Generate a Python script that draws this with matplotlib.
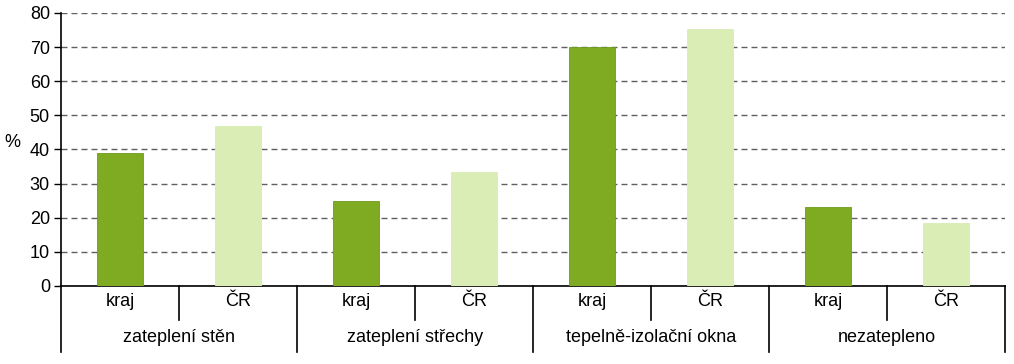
import numpy as np
import matplotlib.pyplot as plt

plt.rcParams['font.family'] = ['Liberation Sans', 'DejaVu Sans']

# --- data ---
groups = ["zateplení stěn", "zateplení střechy", "tepelně-izolační okna", "nezatepleno"]
series = ["kraj", "ČR"]
kraj = [39.0, 25.0, 70.0, 23.2]
cr = [46.8, 33.3, 75.4, 18.5]

dark = "#7FAB23"
light = "#D9EDB4"
fs = 13

fig = plt.figure(figsize=(10.14, 3.64), dpi=100)
ax = fig.add_axes([0.0602, 0.2143, 0.9308, 0.75])

n = len(groups)
pos_kraj = np.arange(n) * 2
pos_cr = pos_kraj + 1
w = 0.39
ax.bar(pos_kraj, kraj, width=w, color=dark, edgecolor="#6E9A1A", linewidth=0.6, zorder=3)
ax.bar(pos_cr, cr, width=w, color=light, edgecolor=light, linewidth=0.6, zorder=3)

ax.set_xlim(-0.5, 2 * n - 0.5)
ax.set_ylim(0, 80)
ax.set_yticks(np.arange(0, 81, 10))
ax.tick_params(axis='y', direction='out', length=5, width=1, labelsize=fs, colors='black', pad=3)
ax.set_xticks([])
ax.yaxis.grid(True, linestyle=(0, (4.3, 2.9)), color='#606060', linewidth=1, zorder=0)
ax.set_axisbelow(True)

for s in ['top', 'right']:
    ax.spines[s].set_visible(False)
ax.spines['left'].set_linewidth(1.2)
ax.spines['bottom'].set_linewidth(1.2)

fig.text(12 / 1014, 1 - 143 / 364, "%", fontsize=fs, ha='center', va='center')

# --- two level category axis ---
trans = ax.get_xaxis_transform()
y_minor = -0.125
y_major = -0.24
for i in range(n):
    ax.plot([pos_kraj[i] + 0.5] * 2, [0, y_minor], color='black', lw=1.2,
            transform=trans, clip_on=False)
for b in np.arange(n + 1) * 2 - 0.5:
    ax.plot([b, b], [0, y_major], color='black', lw=1.2, transform=trans, clip_on=False)

for i in range(n):
    ax.text(pos_kraj[i], -0.058, series[0], transform=trans, ha='center', va='center', fontsize=fs)
    ax.text(pos_cr[i], -0.058, series[1], transform=trans, ha='center', va='center', fontsize=fs)
    ax.text(pos_kraj[i] + 0.5, -0.19, groups[i], transform=trans, ha='center', va='center', fontsize=fs)

fig.savefig("out.png", dpi=100)
